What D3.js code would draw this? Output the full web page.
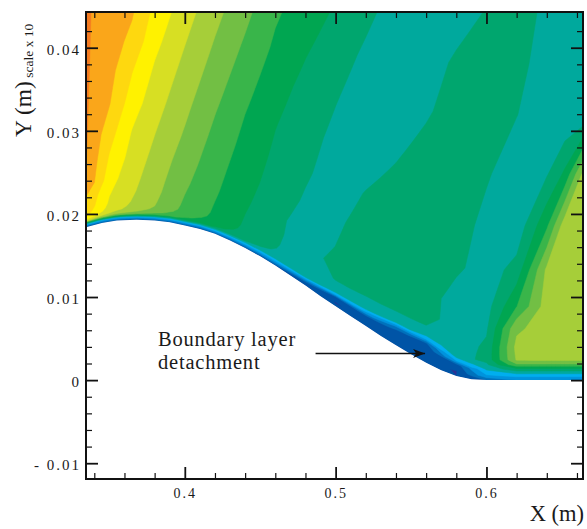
<!DOCTYPE html>
<html>
<head>
<meta charset="utf-8">
<script src="https://cdnjs.cloudflare.com/ajax/libs/d3/7.8.5/d3.min.js"></script>
<style>
  body { margin: 0; background: #fff; }
  svg text { font-family: "Liberation Serif", "Times New Roman", serif; fill: #1a1a1a; }
</style>
</head>
<body>
<div class="chart"></div>
<script>
const margin = {left: 86, top: 12, right: 4, bottom: 50};
const width = 587 - margin.left - margin.right;
const height = 529 - margin.top - margin.bottom;

const xDomain = [0.3345, 0.664];
const yDomain = [-0.0119, 0.0443];

// bump wall profile (m)
const wallX = [0.3345, 0.345, 0.355, 0.368, 0.38, 0.39, 0.40, 0.41, 0.42, 0.43, 0.44, 0.45, 0.46, 0.47, 0.48,
  0.49, 0.50, 0.51, 0.52, 0.53, 0.54, 0.55, 0.56, 0.57, 0.58, 0.59, 0.60, 0.664];
const wallY = [0.0184, 0.0189, 0.0192, 0.0193, 0.0192, 0.0190, 0.0186, 0.0182, 0.0176, 0.0168, 0.0159, 0.0149, 0.0138, 0.0126, 0.0114,
  0.0101, 0.0089, 0.0077, 0.0065, 0.0053, 0.0042, 0.0031, 0.0021, 0.0012, 0.0005, 0.0001, 0, 0];

// body fitted grid: columns in x, rows as fraction of the wall-to-top distance
const gridX = [0.3345, 0.35, 0.365, 0.38, 0.40, 0.42, 0.44, 0.46, 0.48, 0.50, 0.52, 0.54, 0.56, 0.58, 0.60, 0.62, 0.64, 0.652, 0.664];
const gridEta = [0, 0.012, 0.03, 0.042, 0.055, 0.07, 0.09, 0.14, 0.2, 0.3, 0.42, 0.56, 0.72, 0.86, 1.0];

// contour level at each node, one row per eta, from the wall up
const row00 = [1.5, 1.5, 1.5, 1.5, 1.5, 1.4, 1.4, 1.3, 1.1, 1.1, 1.1, 1.1, 1.2, 1.0, 2.0, 3.0, 3.0, 3.0, 3.0];
const row01 = [3.7, 3.7, 3.7, 3.7, 3.6, 3.6, 3.5, 3.3, 1.8, 0.95, 1.2, 1.15, 1.2, 0.95, 3.8, 4.3, 4.3, 4.3, 4.3];
const row02 = [11.3, 9.8, 9.1, 8.6, 7.7, 6.9, 6.0, 5.4, 5.1, 1.5, 1.4, 1.2, 1.2, 1.4, 5.2, 6.7, 6.7, 6.7, 6.7];
const row03 = [12.6, 11.0, 10.2, 9.4, 8.2, 7.35, 6.35, 5.7, 5.4, 4.8, 3.5, 1.5, 1.3, 4.0, 5.8, 8.8, 8.8, 8.8, 8.8];
const row04 = [13.2, 11.5, 10.6, 9.8, 8.5, 7.6, 6.6, 5.9, 5.4, 5.4, 5.2, 2.8, 1.8, 5.5, 6.3, 10.1, 10.2, 10.2, 10.2];
const row05 = [13.45, 11.7, 10.8, 10.0, 8.7, 7.75, 6.75, 6.02, 5.4, 5.6, 5.5, 5.3, 4.6, 5.4, 6.3, 10.2, 10.5, 10.5, 10.5];
const row06 = [13.7, 11.85, 10.95, 10.1, 8.8, 7.85, 6.85, 6.10, 5.4, 6.05, 5.95, 5.85, 5.8, 5.4, 6.2, 10.3, 10.5, 10.5, 10.5];
const row07 = [13.96, 12.08, 11.15, 10.30, 8.98, 7.98, 6.99, 6.24, 5.4, 6.4, 6.4, 6.45, 6.4, 5.5, 5.85, 9.8, 10.5, 10.5, 10.5];
const row08 = [14.9, 12.40, 11.32, 10.46, 9.18, 8.15, 7.14, 6.39, 5.35, 6.02, 6.5, 6.5, 6.5, 5.5, 5.6, 7.97, 10.5, 10.5, 10.5];
const row09 = [15.03, 12.88, 11.60, 10.71, 9.50, 8.38, 7.38, 6.59, 5.86, 5.75, 6.5, 6.5, 6.5, 6.2, 5.5, 6.35, 10.2, 10.5, 10.5];
const row10 = [15.1, 13.4, 11.93, 11.03, 9.87, 8.68, 7.66, 6.79, 6.15, 5.5, 6.05, 6.5, 6.5, 6.4, 5.74, 5.3, 7.81, 10.6, 10.5];
const row11 = [15.1, 14.04, 12.48, 11.42, 10.25, 9.07, 7.98, 7.05, 6.40, 5.73, 5.5, 5.95, 6.5, 6.5, 6.1, 5.5, 5.9, 7.2, 10.2];
const row12 = [15.11, 14.34, 13.06, 11.85, 10.67, 9.54, 8.42, 7.45, 6.69, 6.09, 5.5, 5.5, 5.85, 6.5, 6.5, 6.02, 5.5, 5.05, 5.05];
const row13 = [15.11, 14.50, 13.73, 12.30, 11.05, 9.92, 8.85, 7.82, 7.09, 6.45, 5.82, 5.5, 5.5, 6.17, 6.5, 6.35, 5.5, 5.5, 5.5];
const row14 = [15.11, 14.6, 14.11, 12.73, 11.43, 10.30, 9.27, 8.15, 7.48, 6.88, 6.24, 5.6, 5.5, 5.5, 6.06, 6.4, 5.81, 5.5, 5.5];
const levelRows = [row00, row01, row02, row03, row04, row05, row06, row07, row08, row09, row10, row11, row12, row13, row14];

const levelColors = ['#2e3192', '#0054a6', '#0072bc', '#0093dd', '#00aeef', '#00a99d', '#00a66e', '#00a651',
  '#39b54a', '#72bf44', '#a6ce39', '#d7df23', '#fff200', '#fed80f', '#faa61a', '#f47a20'];

// ticks
const xMajor = [0.4, 0.5, 0.6];
const xLabels = ["0.4", "0.5", "0.6"];
const xMinor = [0.34, 0.36, 0.38, 0.42, 0.44, 0.46, 0.48, 0.52, 0.54, 0.56, 0.58, 0.62, 0.64, 0.66];
const yMajor = [-0.01, 0, 0.01, 0.02, 0.03, 0.04];
const yLabels = ["- 0.01", "0", "0.01", "0.02", "0.03", "0.04"];
const yMinor = [-0.008, -0.006, -0.004, -0.002, 0.002, 0.004, 0.006, 0.008, 0.012, 0.014, 0.016, 0.018,
  0.022, 0.024, 0.026, 0.028, 0.032, 0.034, 0.036, 0.038, 0.042];

// annotation
const noteLines = ["Boundary layer", "detachment"];
const noteX = 0.3822;
const noteY = [0.00415, 0.00138];
const arrowFrom = [0.4867, 0.0032];
const arrowTo = [0.5593, 0.0032];


let svg = d3.select('.chart')
  .append('svg')
  .attr('width', width + margin.left + margin.right)
  .attr('height', height + margin.top + margin.bottom)
  .append('g')
  .attr('transform', "translate(" + margin.left + "," + margin.top + ")");

let x = d3.scaleLinear().domain(xDomain).range([0, width]);
let y = d3.scaleLinear().domain(yDomain).range([height, 0]);

// grid index -> physical coordinates
let colScale = d3.scaleLinear().domain(gridX.map((d, i) => i + 0.5)).range(gridX).clamp(true);
let rowScale = d3.scaleLinear().domain(gridEta.map((d, i) => i + 0.5)).range(gridEta).clamp(true);
let wall = d3.scaleLinear().domain(wallX).range(wallY).clamp(true);

function project(p) {
  let xv = colScale(p[0]);
  let w = wall(xv);
  let yv = w + rowScale(p[1]) * (yDomain[1] - w);
  return x(xv).toFixed(2) + "," + y(yv).toFixed(2);
}

// split ring edges so they follow the curved grid lines
function ringPath(ring) {
  let pts = [];
  for (let k = 0; k < ring.length - 1; k++) {
    let a = ring[k], b = ring[k + 1];
    for (let s = 0; s < 4; s++) {
      pts.push(project([a[0] + (b[0] - a[0]) * s / 4, a[1] + (b[1] - a[1]) * s / 4]));
    }
  }
  return "M" + pts.join("L") + "Z";
}

let contours = d3.contours()
  .size([gridX.length, gridEta.length])
  .thresholds(d3.range(0, levelColors.length))
  (levelRows.flat());

svg.append('clipPath').attr('id', 'plotClip')
  .append('rect').attr('width', width).attr('height', height);

// filled contours
svg.append('g')
  .attr('clip-path', 'url(#plotClip)')
  .selectAll('path')
  .data(contours)
  .enter()
  .append('path')
  .attr('d', c => c.coordinates.map(poly => poly.map(ringPath).join("")).join(""))
  .attr('fill-rule', 'evenodd')
  .attr('fill', c => levelColors[c.value])
  .attr('stroke', c => levelColors[c.value])
  .attr('stroke-width', 0.5);

// solid body under the wall
svg.append('path')
  .datum(wallX.map((d, i) => [d, wallY[i]]))
  .attr('fill', '#fff')
  .attr('d', d3.area().x(d => x(d[0])).y0(height).y1(d => y(d[1])));

// annotation
noteLines.forEach((line, i) => {
  svg.append('text')
    .attr('x', x(noteX))
    .attr('y', y(noteY[i]))
    .style('font-size', '20.5px')
    .style('letter-spacing', '0.8px')
    .text(line);
});

svg.append('defs').append('marker')
  .attr('id', 'head')
  .attr('markerUnits', 'userSpaceOnUse')
  .attr('markerWidth', 14).attr('markerHeight', 10)
  .attr('refX', 12).attr('refY', 4.5)
  .attr('orient', 'auto')
  .append('path')
  .attr('d', 'M0,0L12,4.5L0,9L3,4.5Z')
  .attr('fill', '#111');

svg.append('line')
  .attr('x1', x(arrowFrom[0])).attr('y1', y(arrowFrom[1]))
  .attr('x2', x(arrowTo[0])).attr('y2', y(arrowTo[1]))
  .attr('stroke', '#111')
  .attr('stroke-width', 1.4)
  .attr('marker-end', 'url(#head)');

// axes, ticks pointing inward on all four sides
function tickGroup(axis, transform, values, size, width, labels, padding) {
  let g = svg.append('g')
    .attr('transform', transform)
    .call(axis.tickValues(values).tickSize(-size).tickPadding(padding || 3)
      .tickFormat(labels ? (d, i) => labels[i] : ""));
  g.select('.domain').remove();
  g.selectAll('line').attr('stroke', '#111').attr('stroke-width', width);
  return g;
}

tickGroup(d3.axisBottom(x), "translate(0," + height + ")", xMinor, 6, 1.2);
tickGroup(d3.axisTop(x), "translate(0,0)", xMinor, 6, 1.2);
tickGroup(d3.axisTop(x), "translate(0,0)", xMajor, 12, 1.8);
tickGroup(d3.axisLeft(y), "translate(0,0)", yMinor, 6, 1.2);
tickGroup(d3.axisRight(y), "translate(" + width + ",0)", yMinor, 6, 1.2);
tickGroup(d3.axisRight(y), "translate(" + width + ",0)", yMajor, 12, 1.8);

tickGroup(d3.axisBottom(x), "translate(0," + height + ")", xMajor, 12, 1.8, xLabels, 9)
  .selectAll('text')
  .style('font-size', '14px')
  .style('letter-spacing', '2px');

tickGroup(d3.axisLeft(y), "translate(0,0)", yMajor, 12, 1.8, yLabels, 5)
  .selectAll('text')
  .attr('dy', '0.43em')
  .style('font-size', '15px')
  .style('letter-spacing', '2px');

svg.selectAll('.tick text').attr('fill', '#1a1a1a');

// frame
svg.append('rect')
  .attr('width', width)
  .attr('height', height)
  .attr('fill', 'none')
  .attr('stroke', '#111')
  .attr('stroke-width', 2);

// axis titles
let yTitle = svg.append('text')
  .attr('transform', 'translate(' + (-55) + ',' + 125 + ') rotate(-90)')
  .style('font-size', '23.5px');
yTitle.append('tspan').text('Y (m)');
yTitle.append('tspan').attr('dy', 2).style('font-size', '13.5px').text(' scale x 10');

svg.append('text')
  .attr('x', width + 1)
  .attr('y', height + 42)
  .attr('text-anchor', 'end')
  .style('font-size', '22.5px')
  .text('X (m)');
</script>
</body>
</html>
